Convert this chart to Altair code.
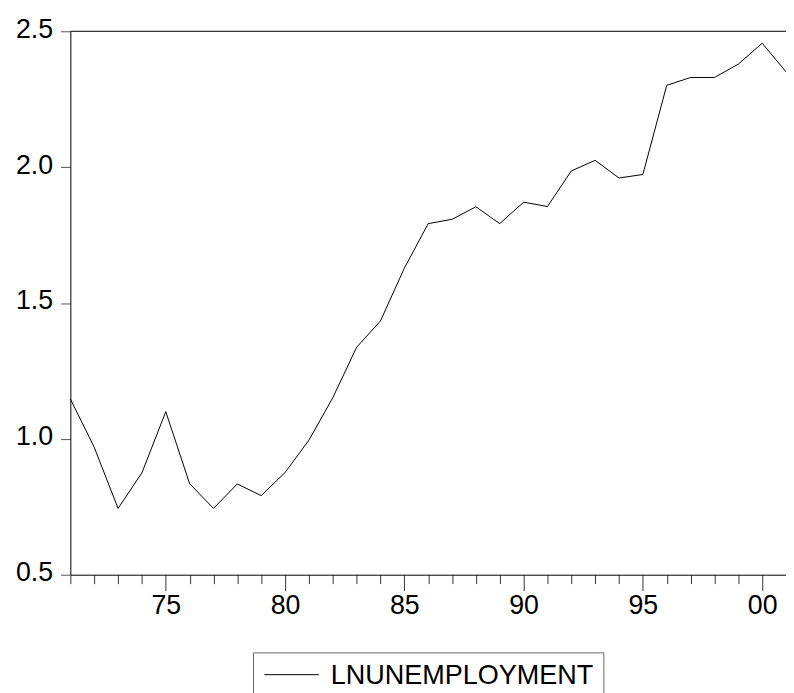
import altair as alt
import pandas as pd

years = list(range(1971, 2002))
lnunemployment = [1.147, 0.969, 0.744, 0.875, 1.100, 0.835, 0.744, 0.834, 0.791, 0.876,
                  0.995, 1.151, 1.337, 1.434, 1.628, 1.792, 1.808, 1.854, 1.792, 1.871,
                  1.855, 1.986, 2.025, 1.960, 1.973, 2.301, 2.330, 2.330, 2.379, 2.456,
                  2.351]
series_name = "LNUNEMPLOYMENT"
y_ticks = [0.5, 1.0, 1.5, 2.0, 2.5]

df = pd.DataFrame({"year": years, "value": lnunemployment})
legend_df = pd.DataFrame({"series": [series_name]})

FONT = "Liberation Sans"
W, H = 723, 549

x_enc = alt.X(
    "year:Q",
    scale=alt.Scale(domain=[years[0], years[-1]], nice=False, zero=False),
    axis=alt.Axis(
        title=None,
        values=years,
        labelExpr="datum.value % 5 == 0 ? substring(toString(datum.value), 2) : ''",
        tickSize={"condition": {"test": "datum.value % 5 == 0", "value": 16}, "value": 9},
        tickColor="#333333",
        domainColor="#000000",
        labelFont=FONT,
        labelFontSize=27,
        labelColor="#000000",
        labelPadding=2,
        labelOverlap=False,
        labelFlush=False,
        labelBound=False,
        grid=False,
    ),
)
y_enc = alt.Y(
    "value:Q",
    scale=alt.Scale(domain=[0.5, 2.5], nice=False, zero=False),
    axis=alt.Axis(
        title=None,
        values=y_ticks,
        format=".1f",
        tickSize=10,
        tickColor="#555555",
        domainColor="#000000",
        labelFont=FONT,
        labelFontSize=27,
        labelColor="#000000",
        labelPadding=8,
        labelBaseline="alphabetic",
        labelOffset=6,
        labelFlush=False,
        labelOverlap=False,
        grid=False,
    ),
)

line = alt.Chart(df).mark_line(color="#000000", strokeWidth=1).encode(x=x_enc, y=y_enc)

top_border = alt.Chart(legend_df).mark_rule(color="#000000", strokeWidth=1).encode(
    x=alt.value(0), x2=alt.value(W), y=alt.value(0)
)

legend_box = alt.Chart(legend_df).mark_rect(
    fill="#ffffff", fillOpacity=0, stroke="#666666", strokeWidth=1
).encode(x=alt.value(185), x2=alt.value(539), y=alt.value(628), y2=alt.value(720))

legend_line = alt.Chart(legend_df).mark_rule(color="#000000", strokeWidth=1).encode(
    x=alt.value(196), x2=alt.value(251), y=alt.value(650)
)

legend_text = alt.Chart(legend_df).mark_text(
    align="left", baseline="alphabetic", font=FONT, fontSize=27.3, color="#000000"
).encode(text="series:N", x=alt.value(263), y=alt.value(659))

chart = alt.layer(line, top_border, legend_box, legend_line, legend_text).properties(
    width=W,
    height=H,
    padding={"left": 63, "top": 20, "right": 0, "bottom": 116},
    autosize=alt.AutoSizeParams(type="none"),
    background="#ffffff",
).configure_view(stroke=None)

chart.save("out.html", embed_options={"renderer": "svg", "actions": False})
